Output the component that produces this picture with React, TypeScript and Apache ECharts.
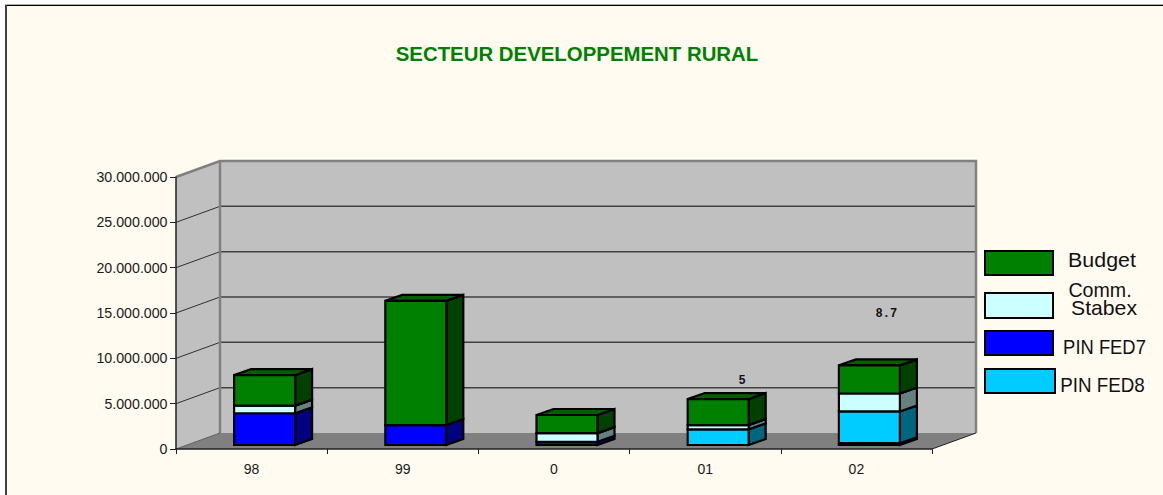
import React, { useEffect, useRef } from "react";
import * as echarts from "echarts";

const categories = ["98", "99", "0", "01", "02"];
const pinFed7 = [3500000, 2200000, 360000, 0, 200000];
const pinFed8 = [0, 0, 0, 1730000, 3500000];
const commStabex = [840000, 0, 950000, 470000, 1980000];
const budget = [3370000, 13700000, 2000000, 2870000, 3100000];
const yTicks = [0, 5000000, 10000000, 15000000, 20000000, 25000000, 30000000];
const noteCategories = [3, 4];
const noteValues = [7550000, 14900000];
const noteTexts = ["5", "8.7"];

const FONT = "Liberation Sans";
const DX = 44;
const DY = 16;
const BAR_W = 61;
const BAR_DX = 13;
const BAR_DY = 4;
const BAR_DEPTH_X = 17;
const BAR_DEPTH_Y = 6;

const layers = [
  { name: "PIN FED7", values: pinFed7, front: "#0000FF", top: "#0000A0", side: "#000080" },
  { name: "PIN FED8", values: pinFed8, front: "#00CCFF", top: "#0099BF", side: "#006680" },
  { name: "Comm. Stabex", values: commStabex, front: "#CCFFFF", top: "#99BFBF", side: "#668080" },
  { name: "Budget", values: budget, front: "#008000", top: "#006000", side: "#004000" },
];

function layerRows(layerIndex: number) {
  return categories.map((_, i) => {
    let start = 0;
    for (let l = 0; l < layerIndex; l++) start += layers[l].values[i];
    return [i, start, start + layers[layerIndex].values[i]];
  });
}

function renderWalls(params: any, api: any) {
  const c = params.coordSys;
  const x0 = c.x;
  const x1 = c.x + c.width;
  const yBase = api.coord([0, 0])[1];
  const yTop = api.coord([0, 30000000])[1];
  const gray = "#808080";
  const children: any[] = [
    { type: "polygon", shape: { points: [[x0, yBase], [x0 + DX, yBase - DY], [x0 + DX, yTop - DY], [x0, yTop]] }, style: { fill: "#C0C0C0" } },
    { type: "rect", shape: { x: x0 + DX, y: yTop - DY, width: x1 - x0, height: yBase - yTop }, style: { fill: "#C0C0C0" } },
    { type: "polygon", shape: { points: [[x0, yBase], [x0 + DX, yBase - DY], [x1 + DX, yBase - DY], [x1, yBase]] }, style: { fill: gray } },
  ];
  yTicks.slice(1, -1).forEach((v) => {
    const y = api.coord([0, v])[1];
    children.push({ type: "line", shape: { x1: x0, y1: y, x2: x0 + DX, y2: y - DY }, style: { stroke: "#303030", lineWidth: 1 } });
    children.push({ type: "line", shape: { x1: x0 + DX, y1: y - DY, x2: x1 + DX, y2: y - DY }, style: { stroke: "#404040", lineWidth: 1.5 } });
  });
  children.push(
    { type: "polyline", shape: { points: [[x0, yTop], [x0 + DX, yTop - DY], [x1 + DX, yTop - DY], [x1 + DX, yBase - DY]] }, style: { stroke: gray, lineWidth: 2.5, fill: "none" } },
    { type: "line", shape: { x1: x0 + DX, y1: yTop - DY, x2: x0 + DX, y2: yBase - DY }, style: { stroke: gray, lineWidth: 2.5 } },
    { type: "line", shape: { x1: x1, y1: yBase, x2: x1 + DX, y2: yBase - DY }, style: { stroke: "#202020", lineWidth: 1 } },
    { type: "line", shape: { x1: x0, y1: yBase, x2: x0 + DX, y2: yBase - DY }, style: { stroke: "#606060", lineWidth: 1 } }
  );
  return { type: "group", children };
}

function makeBarRenderer(layer: (typeof layers)[number]) {
  return (_params: any, api: any) => {
    const cat = api.value(0);
    const start = api.value(1);
    const end = api.value(2);
    if (end <= start) return { type: "group", children: [] };
    const pB = api.coord([cat, start]);
    const pT = api.coord([cat, end]);
    const xL = pB[0] + BAR_DX - BAR_W / 2;
    const xR = xL + BAR_W;
    const yB = pB[1] - BAR_DY;
    const yT = pT[1] - BAR_DY;
    const style = (fill: string) => ({ fill, stroke: "#000", lineWidth: 2.2, lineJoin: "miter" });
    return {
      type: "group",
      children: [
        { type: "polygon", shape: { points: [[xR, yB], [xR + BAR_DEPTH_X, yB - BAR_DEPTH_Y], [xR + BAR_DEPTH_X, yT - BAR_DEPTH_Y], [xR, yT]] }, style: style(layer.side) },
        { type: "polygon", shape: { points: [[xL, yT], [xL + BAR_DEPTH_X, yT - BAR_DEPTH_Y], [xR + BAR_DEPTH_X, yT - BAR_DEPTH_Y], [xR, yT]] }, style: style(layer.top) },
        { type: "rect", shape: { x: xL, y: yT, width: BAR_W, height: yB - yT }, style: style(layer.front) },
      ],
    };
  };
}

function renderNote(_params: any, api: any) {
  const p = api.coord([api.value(0), api.value(1)]);
  const idx = api.value(2);
  return {
    type: "text",
    x: p[0] + (idx === 0 ? 37 : 30),
    y: p[1],
    style: {
      text: noteTexts[idx],
      fontFamily: "Liberation Mono",
      fontWeight: "bold",
      fontSize: 12,
      fill: "#111",
      textAlign: "center",
      textVerticalAlign: "middle",
    },
  };
}

const legendItems = [
  { fill: "#008000", x: 985, y: 251, w: 68, h: 24 },
  { fill: "#CCFFFF", x: 985, y: 293, w: 68, h: 25 },
  { fill: "#0000FF", x: 985, y: 331, w: 68, h: 24 },
  { fill: "#00CCFF", x: 985, y: 369, w: 70, h: 24 },
];
const legendTexts = [
  { text: "Budget", x: 1102, y: 260, size: 20, sx: 1.07 },
  { text: "Comm.", x: 1100, y: 290, size: 20, sx: 0.98 },
  { text: "Stabex", x: 1104, y: 308, size: 20, sx: 1.06 },
  { text: "PIN FED7", x: 1104.5, y: 347, size: 20, sx: 0.92 },
  { text: "PIN FED8", x: 1102.5, y: 385, size: 20, sx: 0.94 },
];

export default function App() {
  const ref = useRef<HTMLDivElement>(null);
  useEffect(() => {
    const chart = echarts.init(ref.current!, null, { renderer: "svg" });
    chart.setOption({
      animation: false,
      backgroundColor: "#FFFFFF",
      title: {
        text: "SECTEUR DEVELOPPEMENT RURAL",
        left: 572,
        top: 39,
        textAlign: "center",
        textStyle: { fontFamily: FONT, fontWeight: "bold", fontSize: 20.4, color: "#008000" },
      },
      grid: { left: 176, top: 177, width: 756, height: 272, containLabel: false },
      xAxis: {
        type: "category",
        data: categories,
        z: 5,
        axisLine: { lineStyle: { color: "#202020", width: 1.5 } },
        axisTick: { show: true, length: 5, alignWithLabel: false, lineStyle: { color: "#202020" } },
        axisLabel: { fontFamily: FONT, fontSize: 14, color: "#1a1a1a", margin: 13, hideOverlap: false },
      },
      yAxis: {
        type: "value",
        min: 0,
        max: 30000000,
        interval: 5000000,
        z: 5,
        axisLine: { show: true, lineStyle: { color: "#202020", width: 1.5 } },
        axisTick: { show: true, length: 6, lineStyle: { color: "#202020" } },
        splitLine: { show: false },
        axisLabel: {
          fontFamily: FONT,
          fontSize: 14.2,
          color: "#1a1a1a",
          margin: 8.5,
          formatter: (v: number) => String(v).replace(/\B(?=(\d{3})+$)/g, "."),
        },
      },
      series: [
        { type: "custom", name: "walls", z: 1, silent: true, clip: false, data: [[0, 0]], renderItem: renderWalls },
        ...layers.map((layer, i) => ({
          type: "custom",
          name: layer.name,
          z: 2,
          clip: false,
          data: layerRows(i),
          encode: { x: 0, y: [1, 2] },
          renderItem: makeBarRenderer(layer),
        })),
        {
          type: "custom",
          name: "notes",
          z: 3,
          clip: false,
          silent: true,
          data: noteCategories.map((c, i) => [c, noteValues[i], i]),
          encode: { x: 0, y: 1 },
          renderItem: renderNote,
        },
      ],
      graphic: [
        { type: "rect", z: -10, silent: true, shape: { x: 5, y: 5, width: 1170, height: 500 }, style: { fill: "#FFFBF0" } },
        { type: "line", z: -9, silent: true, shape: { x1: 5, y1: 4.5, x2: 1163, y2: 4.5 }, style: { stroke: "#B0B0B0", lineWidth: 1 } },
        { type: "line", z: -9, silent: true, shape: { x1: 5, y1: 5.5, x2: 1163, y2: 5.5 }, style: { stroke: "#000", lineWidth: 1 } },
        { type: "line", z: -9, silent: true, shape: { x1: 6, y1: 5, x2: 6, y2: 495 }, style: { stroke: "#404040", lineWidth: 2 } },
        ...legendItems.map((it) => ({
          type: "rect",
          z: 10,
          silent: true,
          shape: { x: it.x, y: it.y, width: it.w, height: it.h },
          style: { fill: it.fill, stroke: "#000", lineWidth: 2 },
        })),
        ...legendTexts.map((t) => ({
          type: "text",
          z: 10,
          silent: true,
          x: t.x,
          y: t.y,
          scaleX: t.sx,
          style: {
            text: t.text,
            fontFamily: FONT,
            fontSize: t.size,
            fill: "#111",
            textAlign: "center",
            textVerticalAlign: "middle",
          },
        })),
      ],
    });
    return () => chart.dispose();
  }, []);
  return <div ref={ref} style={{ position: "absolute", left: 0, top: 0, width: 1163, height: 495 }} />;
}
